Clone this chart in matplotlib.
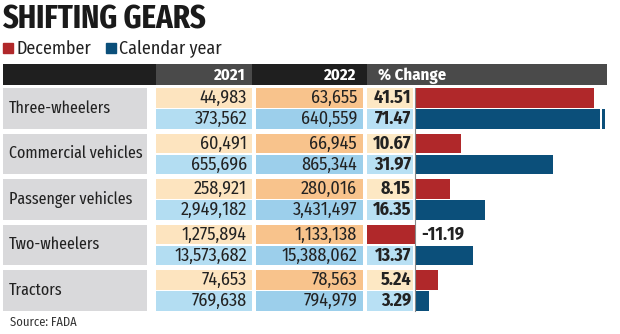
import matplotlib.pyplot as plt
from matplotlib.patches import Rectangle

plt.rcParams['font.family'] = ['Fira Sans Condensed', 'DejaVu Sans']

# data
categories = ['Three-wheelers', 'Commercial vehicles', 'Passenger vehicles',
              'Two-wheelers', 'Tractors']
dec_2021 = ['44,983', '60,491', '258,921', '1,275,894', '74,653']
dec_2022 = ['63,655', '66,945', '280,016', '1,133,138', '78,563']
dec_change = [41.51, 10.67, 8.15, -11.19, 5.24]
cal_2021 = ['373,562', '655,696', '2,949,182', '13,573,682', '769,638']
cal_2022 = ['640,559', '865,344', '3,431,497', '15,388,062', '794,979']
cal_change = [71.47, 31.97, 16.35, 13.37, 3.29]
headers = ['2021', '2022', '% Change']

RED = '#b0282a'
BLUE = '#0b4f7a'
GRAY_BOX = '#d9d9db'
DEC_CELLS = ['#fde4bf', '#f8c38c', '#fde8c4']
CAL_CELLS = ['#b3ddf2', '#9ccfeb', '#b8e0f4']
TXT = '#222222'
NARROW = ['Fira Sans Extra Condensed', 'DejaVu Sans']

W, H = 620, 334
fig = plt.figure(figsize=(6.2, 3.34), dpi=100)
ax = fig.add_axes([0, 0, 1, 1])
ax.set_xlim(0, W)
ax.set_ylim(H, 0)
ax.axis('off')

# title + legend
ax.text(2, 28.5, 'SHIFTING GEARS', fontsize=24, fontweight='bold', color='#1a1a1a',
        va='baseline', ha='left', family=NARROW)
ax.add_patch(Rectangle((3, 43), 10, 10, color=RED))
ax.text(17, 54, 'December', fontsize=13, color=TXT, va='baseline')
ax.add_patch(Rectangle((106, 43), 10, 10, color=BLUE))
ax.text(119, 54, 'Calendar year', fontsize=13, color=TXT, va='baseline')

# header bar
hdr_cols = [(3, 156, '#1f1f1f'), (156, 252, '#4a4a4a'), (252, 367, '#1f1f1f'), (367, 607, '#4a4a4a')]
for x0, x1, c in hdr_cols:
    ax.add_patch(Rectangle((x0, 64), x1 - x0, 21, color=c, lw=0))
ax.text(246, 80, headers[0], color='white', fontsize=12, fontweight='bold', ha='right', va='baseline')
ax.text(356, 80, headers[1], color='white', fontsize=12, fontweight='bold', ha='right', va='baseline')
ax.text(378, 80, headers[2], color='white', fontsize=12, fontweight='bold', ha='left', va='baseline')

# table cells
cols = [(156, 252), (256, 363), (367, 413)]
row_h = 19.5
tops = [88 + 45.5 * i for i in range(len(categories))]
for i, cat in enumerate(categories):
    top = tops[i]
    ax.add_patch(Rectangle((3, top), 144, 2 * row_h + 1.5, color=GRAY_BOX, lw=0))
    ax.text(9, top + row_h + 0.5, cat, fontsize=12.5, color=TXT, va='center', ha='left',
            family=NARROW)
    for sub, (vals, colors) in enumerate([((dec_2021[i], dec_2022[i], dec_change[i]), DEC_CELLS),
                                          ((cal_2021[i], cal_2022[i], cal_change[i]), CAL_CELLS)]):
        y0 = top + sub * (row_h + 1.5)
        yc = y0 + row_h / 2 + 0.5
        for j, (x0, x1) in enumerate(cols):
            if j == 2 and vals[2] < 0:
                continue
            ax.add_patch(Rectangle((x0, y0), x1 - x0, row_h, color=colors[j], lw=0))
        ax.text(247, yc, vals[0], fontsize=13, color=TXT, ha='right', va='center')
        ax.text(357, yc, vals[1], fontsize=13, color=TXT, ha='right', va='center')
        if vals[2] >= 0:
            ax.text(411, yc, f'{vals[2]:.2f}', fontsize=13, fontweight='bold', color=TXT,
                    ha='right', va='center')

ax.text(10, 326, 'Source: FADA', fontsize=9, color='#333333', va='baseline')

# bar chart of % change, 0 at x=415 px, ~4.31 px per percent
px_per = 4.31
bx0, bx1 = 360, 600
bax = fig.add_axes([bx0 / W, 0, (bx1 - bx0) / W, 1])
bax.set_xlim(-(415 - bx0) / px_per, (bx1 - 415) / px_per)
bax.set_ylim(H, 0)
bax.axis('off')
bax.patch.set_visible(False)
dec_y = [t + row_h / 2 for t in tops]
cal_y = [t + row_h + 1.5 + row_h / 2 for t in tops]
bax.barh(dec_y, dec_change, height=row_h, color=RED)
bax.barh(cal_y, cal_change, height=row_h, color=BLUE)
bax.plot([0, 0], [88, tops[-1] + 2 * row_h + 1.5], color='#888888', lw=0.8)
xmax = bax.get_xlim()[1]
for y, v in zip(cal_y, cal_change):
    if v > xmax:
        # truncated bar marker
        bax.add_patch(Rectangle((xmax + 2 / px_per, y - row_h / 2), 3 / px_per, row_h,
                                color=BLUE, lw=0, clip_on=False))
for y, v in zip(dec_y, dec_change):
    if v < 0:
        bax.text(1.4, y + 0.5, f'{v:.2f}', fontsize=13, fontweight='bold', color=TXT,
                 ha='left', va='center')

fig.savefig('out.png', dpi=100)
